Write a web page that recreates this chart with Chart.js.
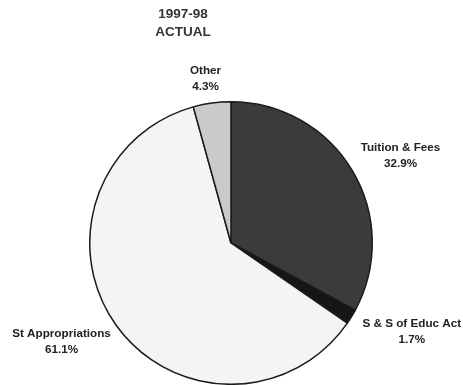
<!DOCTYPE html>
<html>
<head>
<meta charset="utf-8">
<script src="https://cdn.jsdelivr.net/npm/chart.js@4/dist/chart.umd.min.js"></script>
<style>
html,body{margin:0;padding:0;background:#fff;}
#wrap{width:463px;height:385px;position:relative;}
</style>
</head>
<body>
<div id="wrap"><canvas id="c" width="463" height="385"></canvas></div>
<script>
const titleLines = ['1997-98', 'ACTUAL'];
const categories = ['Tuition & Fees', 'S & S of Educ Act', 'St Appropriations', 'Other'];
const shares = [32.9, 1.7, 61.1, 4.3];
const shareLabels = ['32.9%', '1.7%', '61.1%', '4.3%'];
const sliceColors = ['#3b3b3b', '#161616', '#f4f4f4', '#cacaca'];

// label block centres, as multiples of the pie radius from the pie centre
const labelOffsets = [[1.20, -0.62], [1.28, 0.63], [-1.20, 0.70], [-0.18, -1.16]];

const textPlugin = {
  id: 'textPlugin',
  afterDraw(chart) {
    const ctx = chart.ctx;
    const meta = chart.getDatasetMeta(0);
    const arc0 = meta.data[0];
    const cx = arc0.x, cy = arc0.y, r = arc0.outerRadius;
    ctx.save();
    ctx.fillStyle = '#333';
    ctx.textAlign = 'center';
    ctx.textBaseline = 'middle';
    ctx.font = 'bold 13.5px "Liberation Sans", Arial, sans-serif';
    ctx.fillText(titleLines[0], 183, 14);
    ctx.fillText(titleLines[1], 183, 32);
    ctx.fillStyle = '#222';
    ctx.font = 'bold 11.7px "Liberation Sans", Arial, sans-serif';
    categories.forEach((name, i) => {
      const x = cx + labelOffsets[i][0] * r;
      const y = cy + labelOffsets[i][1] * r;
      ctx.fillText(name, x, y - 8);
      ctx.fillText(shareLabels[i], x, y + 8);
    });
    ctx.restore();
  }
};

new Chart(document.getElementById('c'), {
  type: 'pie',
  data: {
    labels: categories,
    datasets: [{
      data: shares,
      backgroundColor: sliceColors,
      borderColor: '#1a1a1a',
      borderWidth: 1.5,
      borderAlign: 'center'
    }]
  },
  options: {
    responsive: false,
    animation: false,
    layout: { padding: { left: 89, right: 90, top: 101, bottom: 0 } },
    plugins: { legend: { display: false }, tooltip: { enabled: false }, title: { display: false } }
  },
  plugins: [textPlugin]
});
</script>
</body>
</html>
